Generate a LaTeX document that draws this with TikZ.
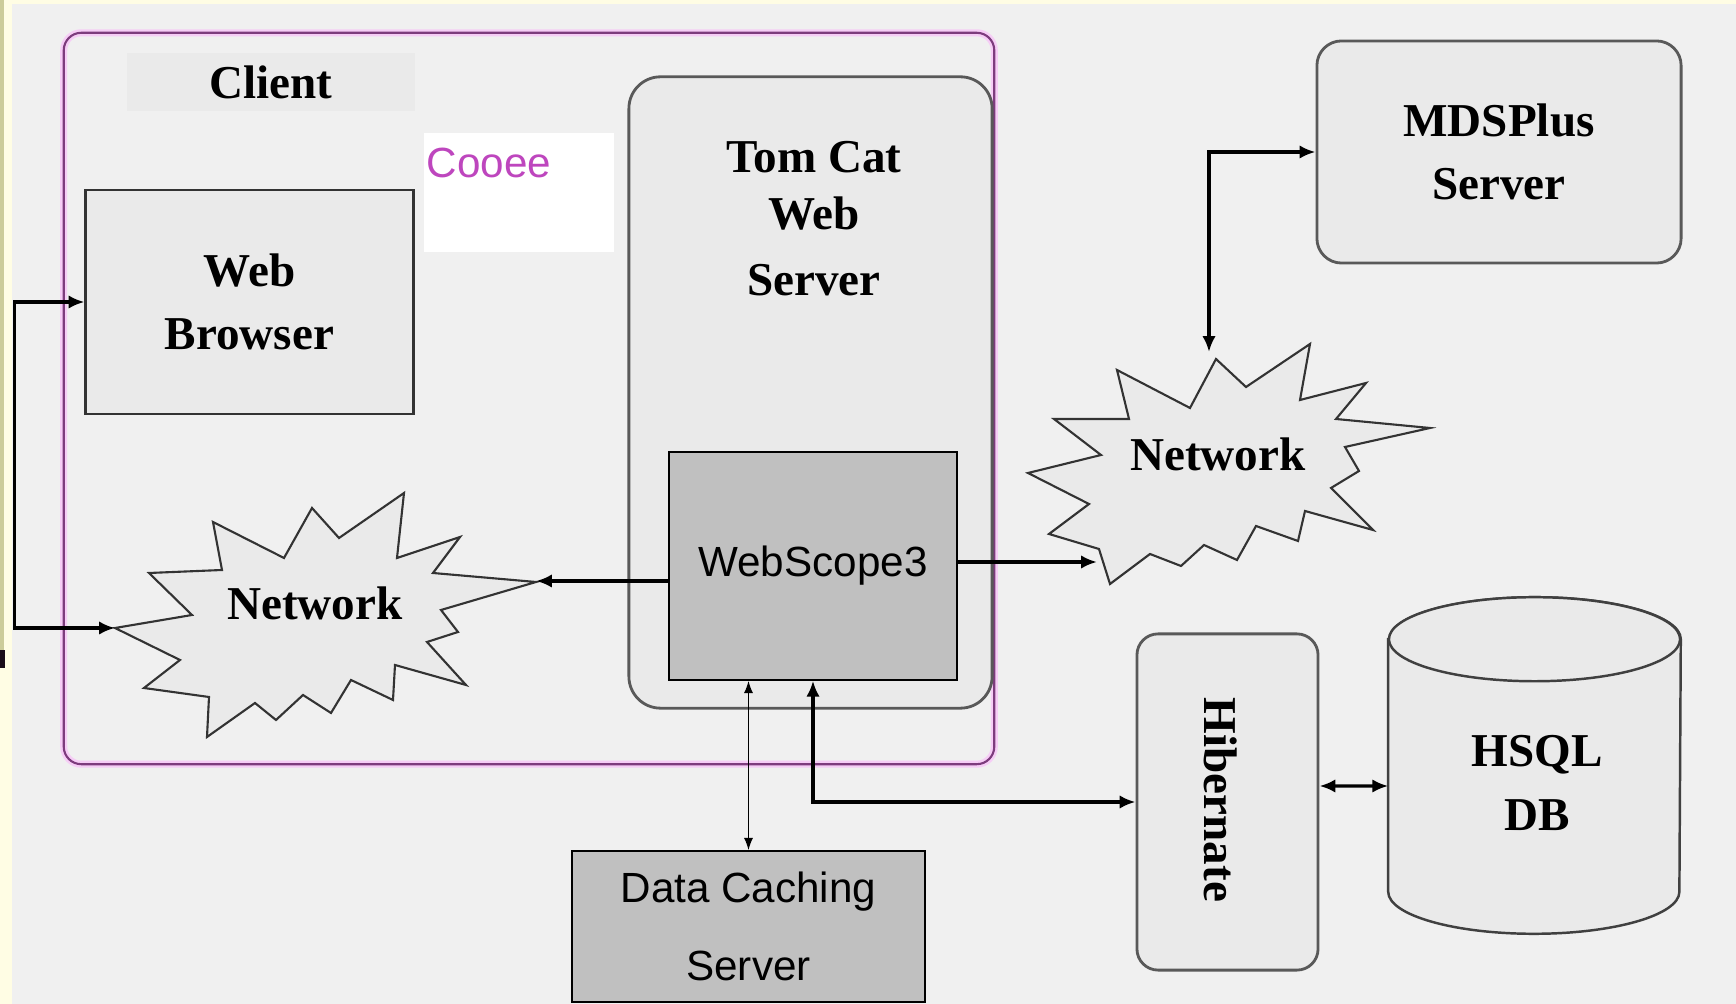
\documentclass[tikz,border=0pt]{standalone}
\usepackage{fontspec}
\setmainfont{Liberation Serif}
\newfontfamily\arialfont{Liberation Sans}
\usetikzlibrary{positioning,arrows.meta}
\definecolor{bgcol}{RGB}{240,240,240}
\definecolor{boxcol}{RGB}{234,234,234}
\definecolor{lblcol}{RGB}{234,234,234}
\definecolor{wscol}{RGB}{192,192,192}
\definecolor{purplecol}{RGB}{125,60,125}
\definecolor{halocol}{RGB}{246,205,246}
\definecolor{cooeecol}{RGB}{190,70,190}
\definecolor{khaki}{RGB}{204,204,153}
\definecolor{cream}{RGB}{255,253,228}
\tikzset{ %line width = 0.3mm,
  >={Latex[length=4.5pt,width=3.8pt]},
  box/.style ={rectangle,draw=black!80,line width=0.8pt,fill=boxcol},
  rbox/.style ={box,draw=black!65,rounded corners=7pt},
  gbox/.style ={rectangle,draw=black,line width=0.4pt,fill=wscol},
  burst/.style ={draw=black!80,line width=0.6pt,fill=boxcol,line join=miter},
  cyl/.style ={draw=black!75,line width=0.7pt,fill=boxcol},
  clientbox/.style ={rectangle,draw=purplecol,line width=0.6pt,rounded corners=5pt,
    preaction={draw=halocol,line width=2pt}},
  txt/.style ={font=\bfseries\fontsize{13.4}{18}\selectfont,align=center},
  sans/.style ={font=\arialfont\fontsize{12}{22}\selectfont,align=center},
  link/.style ={draw,line width=0.9pt},
  thinlink/.style ={draw,line width=0.45pt,
    {Latex[length=3.5pt,width=2.6pt]}-{Latex[length=3.5pt,width=2.6pt]}},
 }
\begin{document}
\begin{tikzpicture}[x=0.01cm,y=-0.01cm]
        % page
        \fill[bgcol] (0,0) rectangle (1736,1004);
        \useasboundingbox (0,0) rectangle (1736,1004);
        \fill[cream] (0,0) rectangle (1736,4);
        \fill[cream] (0,0) rectangle (12,1004);
        \fill[khaki] (0,0) rectangle (4,650);
        \fill[black!80!purplecol] (0,650) rectangle (5,668);
        % client side
        \node[clientbox,minimum width=9.3cm,minimum height=7.31cm] (client) at (529,398.5) {};
        \node[txt,fill=lblcol,minimum width=2.88cm,minimum height=0.58cm] (clientlbl) at (271,82) {Client};
        \fill[white] (424,133) rectangle (614,252);
        \node[sans,text=cooeecol,anchor=west,inner sep=0pt] (cooee) at (426,163) {Cooee};
        \node[box,txt,minimum width=3.27cm,minimum height=2.24cm] (browser) at (249.5,302) {Web\\Browser};
        \node[rbox,rounded corners=9pt,minimum width=3.63cm,minimum height=6.31cm] (tomcat) at (810.5,392.5) {};
        \node[txt] (tomcatlbl) at (814,219) {Tom Cat\\[-2pt]Web\\[1pt]Server};
        \node[gbox,sans,minimum width=2.88cm,minimum height=2.28cm] (ws) at (813,566) {WebScope3};
        \draw[burst] plot coordinates {(115,628) (192,615) (149,573) (222,570) (213,522)
                (284,558) (312,508) (339,538) (404,493) (397,558) (460,537) (433,573)
                (536,582) (441,610) (458,632) (427,642) (466,685) (395,665) (393,700)
                (351,680) (331,713) (303,695) (276,720) (255,703) (207,737) (209,697)
                (144,688) (180,660)} -- cycle;
        \node[txt] (netL) at (315,603) {Network};
        \coordinate (netLw) at (115,628);
        \coordinate (netLe) at (536,581);
        % servers
        \draw[burst] plot coordinates {(1028,473) (1101,455) (1054,419) (1129,419) (1117,370)
                (1190,408) (1216,359) (1246,387) (1310,344) (1300,400) (1366,383) (1336,419)
                (1430,428) (1345,447) (1359,471) (1331,488) (1373,530) (1305,511) (1298,541)
                (1256,526) (1237,560) (1204,545) (1181,566) (1150,554) (1110,584) (1099,549)
                (1049,534) (1089,504)} -- cycle;
        \node[txt] (netR) at (1218,454) {Network};
        \coordinate (netRn) at (1209,352);
        \coordinate (netRin) at (1097,562);
        \node[rbox,txt,minimum width=3.64cm,minimum height=2.22cm] (mds) at (1499,152) {MDSPlus\\Server};
        \node[rbox,rounded corners=6pt,minimum width=1.81cm,minimum height=3.36cm] (hib) at (1227.5,802) {};
        \node[txt,rotate=-90] (hiblbl) at (1221,800) {Hibernate};
        % database
        \node[minimum width=2.91cm,minimum height=3.35cm] (hsql) at (1534.5,765.5) {};
        \draw[cyl] ([yshift=-0.42cm]hsql.north west) -- ([yshift=0.42cm]hsql.south west)
                arc[start angle=180,end angle=360,x radius=1.455cm,y radius=0.42cm]
                -- ([yshift=-0.42cm]hsql.north east)
                arc[start angle=0,end angle=180,x radius=1.455cm,y radius=0.42cm] -- cycle;
        \draw[cyl] ([yshift=-0.42cm]hsql.north) ellipse[x radius=1.455cm,y radius=0.42cm];
        \node[txt] (hsqllbl) at (1537,783) {HSQL\\DB};
        \node[gbox,sans,minimum width=3.53cm,minimum height=1.51cm] (cache) at (748.5,926.5) {Data Caching\\Server};
        % links
        \draw[link,<->] (browser.west) -- ++(-70,0) |- (netLw);
        \draw[link,->] (ws.west |- netLe) -- (netLe);
        \draw[link,->] (ws.east |- netRin) -- (netRin);
        \draw[link,<->] (netRn) |- (mds.west);
        \draw[link,<->] (ws.south) |- (hib.west);
        \draw[link,<->] ([yshift=0.16cm]hib.east) -- (hsql.west |- 0,786);
        \draw[thinlink] (cache.north |- ws.south) -- (cache.north);
\end{tikzpicture}
\end{document}
